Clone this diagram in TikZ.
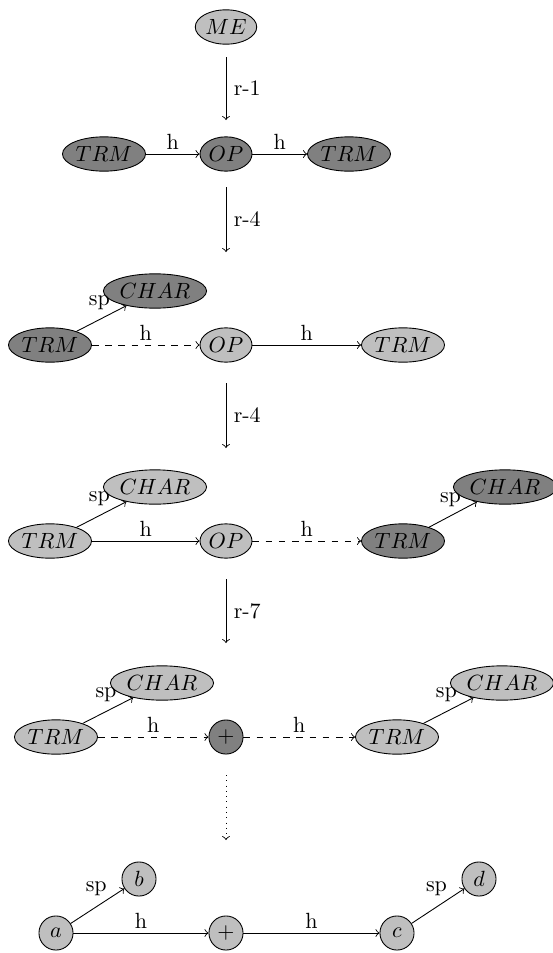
\documentclass[tikz,border=0pt]{standalone}
\usetikzlibrary{shapes.geometric}
\begin{document}
\begin{tikzpicture}[x=0.4545pt,y=-0.4545pt,
  ell/.style={ellipse,draw,inner xsep=0.5pt,inner ysep=2.1pt},
  lt/.style={ell,fill=black!25},
  dk/.style={ell,fill=black!50},
  lc/.style={circle,draw,fill=black!25,minimum size=15.5pt,inner sep=0pt},
  dc/.style={circle,draw,fill=black!50,minimum size=15.5pt,inner sep=0pt},
  edge/.style={->},
  dedge/.style={->,dashed},
  lab/.style={above,inner sep=2pt},
  splab/.style={pos=0.72,above left,inner sep=1pt},
  rlab/.style={midway,right}]
\useasboundingbox (0,0) rectangle (552,953);
% row 1
\node[lt] (me) at (226,27) {$ME$};
\coordinate (r1a) at (226,57); \coordinate (r1b) at (226,120);
\draw[edge] (r1a) -- node[rlab]{r-1} (r1b);
% row 2
\node[dk] (t2a) at (104,154) {$TRM$};
\node[dk] (o2) at (226,154) {$OP$};
\node[dk] (t2b) at (349,154) {$TRM$};
\draw[edge] (t2a) -- node[lab]{h} (o2);
\draw[edge] (o2) -- node[lab]{h} (t2b);
\coordinate (r2a) at (226,187); \coordinate (r2b) at (226,252);
\draw[edge] (r2a) -- node[rlab]{r-4} (r2b);
% row 3
\node[dk] (c3) at (155,291) {$CHAR$};
\node[dk] (t3a) at (50,345) {$TRM$};
\node[lt] (o3) at (226,345) {$OP$};
\node[lt] (t3b) at (403,345) {$TRM$};
\draw[edge] (t3a) -- node[splab]{sp} (c3);
\draw[dedge] (t3a) -- node[lab]{h} (o3);
\draw[edge] (o3) -- node[lab]{h} (t3b);
\coordinate (r3a) at (226,383); \coordinate (r3b) at (226,448);
\draw[edge] (r3a) -- node[rlab]{r-4} (r3b);
% row 4
\node[lt] (c4a) at (155,487) {$CHAR$};
\node[lt] (t4a) at (50,541) {$TRM$};
\node[lt] (o4) at (226,541) {$OP$};
\node[dk] (t4b) at (403,541) {$TRM$};
\node[dk] (c4b) at (505,487) {$CHAR$};
\draw[edge] (t4a) -- node[splab]{sp} (c4a);
\draw[edge] (t4a) -- node[lab]{h} (o4);
\draw[dedge] (o4) -- node[lab]{h} (t4b);
\draw[edge] (t4b) -- node[splab]{sp} (c4b);
\coordinate (r4a) at (226,579); \coordinate (r4b) at (226,643);
\draw[edge] (r4a) -- node[rlab]{r-7} (r4b);
% row 5
\node[lt] (c5a) at (162,683) {$CHAR$};
\node[lt] (t5a) at (56,737) {$TRM$};
\node[dc] (p5) at (226,737) {$+$};
\node[lt] (t5b) at (397,737) {$TRM$};
\node[lt] (c5b) at (502,683) {$CHAR$};
\draw[edge] (t5a) -- node[splab]{sp} (c5a);
\draw[dedge] (t5a) -- node[lab]{h} (p5);
\draw[dedge] (p5) -- node[lab]{h} (t5b);
\draw[edge] (t5b) -- node[splab]{sp} (c5b);
\coordinate (r5a) at (226,775); \coordinate (r5b) at (226,840);
\draw[edge,dotted] (r5a) -- (r5b);
% row 6
\node[lc] (a) at (56,933) {$a$};
\node[lc] (b) at (139,879) {$b$};
\node[lc] (p6) at (226,933) {$+$};
\node[lc] (c) at (397,933) {$c$};
\node[lc] (d) at (479,879) {$d$};
\draw[edge] (a) -- node[splab]{sp} (b);
\draw[edge] (a) -- node[lab]{h} (p6);
\draw[edge] (p6) -- node[lab]{h} (c);
\draw[edge] (c) -- node[splab]{sp} (d);
\end{tikzpicture}
\end{document}
